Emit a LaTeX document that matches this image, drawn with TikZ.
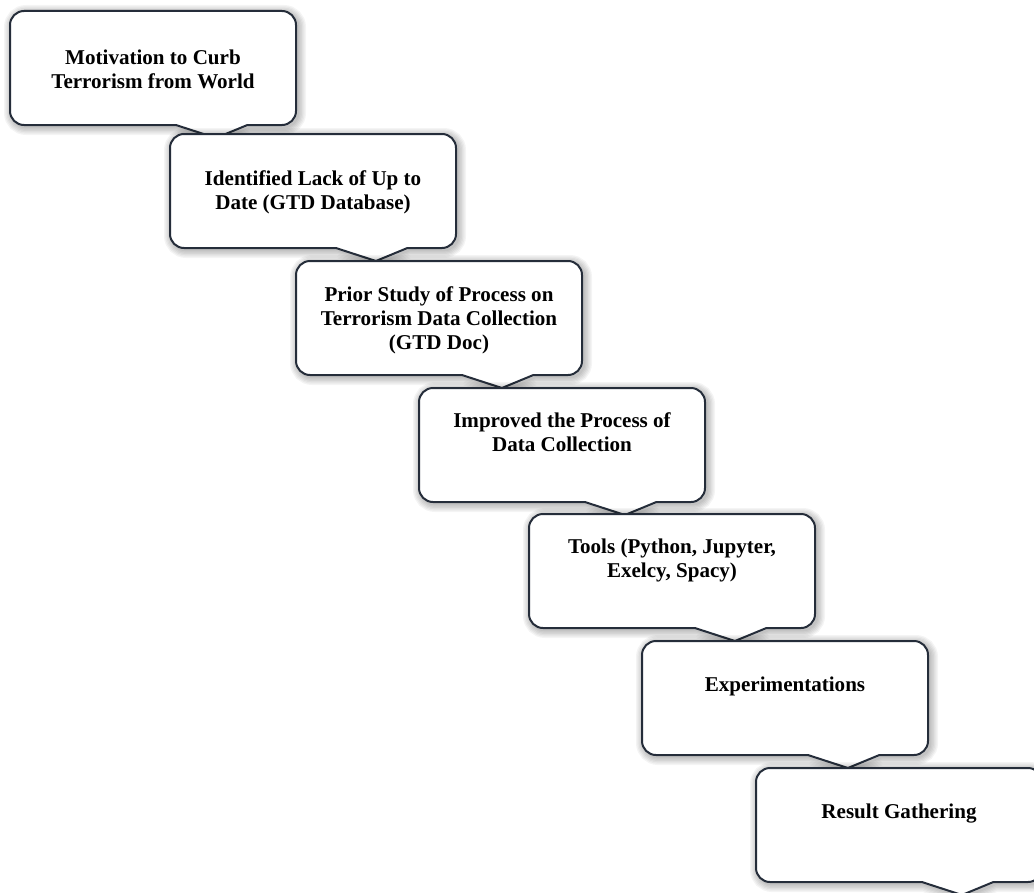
\documentclass[tikz,border=0pt]{standalone}
\usepackage{fontspec}
\setmainfont{Liberation Serif}
\usetikzlibrary{calc}
\definecolor{edge}{HTML}{252D3A}
\tikzset{
  x=0.75pt, y=0.75pt,
  % rounded rectangle with a short pointer under its bottom edge
  callout path/.style={insert path={
    ($(#1.south west)!0.58!(#1.south east)$)
    -- ($(#1.south west)+(14,0)$) arc[start angle=270,end angle=180,radius=10.5pt]
    -- ($(#1.north west)+(0,-14)$) arc[start angle=180,end angle=90,radius=10.5pt]
    -- ($(#1.north east)+(-14,0)$) arc[start angle=90,end angle=0,radius=10.5pt]
    -- ($(#1.south east)+(0,14)$) arc[start angle=0,end angle=-90,radius=10.5pt]
    -- ($(#1.south west)!0.83!(#1.south east)$)
    -- ($(#1.south west)!0.72!(#1.south east)+(0,-13)$) -- cycle}},
  boxarea/.style={minimum width=214.5pt, minimum height=85.5pt, inner sep=0pt, outer sep=0pt},
  labeltext/.style={font=\bfseries\fontsize{15.8pt}{18pt}\selectfont, align=center, inner sep=0pt, text=black},
  calloutbox/.style={draw=edge, line width=1.5pt, fill=white},
  halo/.style={draw=black, draw opacity=0.045, line width=#1, transform canvas={shift={(1.5pt,-1.5pt)}}}
}
\newcommand\castbox[1]{%
  \foreach \w in {2,4,...,12} {\path[halo=\w pt, callout path=#1];}
  \path[calloutbox, callout path=#1];}
\begin{document}
\begin{tikzpicture}
\useasboundingbox (0,0) rectangle (1034,-892);
\clip (0,0) rectangle (1034,-892);

\node[boxarea] (b1) at (153,-68) {};
\castbox{b1}
\node[labeltext] (t1) at (153,-69) {Motivation to Curb\\Terrorism from World};

\node[boxarea] (b2) at (313,-191) {};
\castbox{b2}
\node[labeltext] (t2) at (313,-192) {Identified Lack of Up to\\Date (GTD Database)};

\node[boxarea] (b3) at (439,-318) {};
\castbox{b3}
\node[labeltext] (t3) at (439,-320) {Prior Study of Process on\\Terrorism Data Collection\\(GTD Doc)};

\node[boxarea] (b4) at (562,-445) {};
\castbox{b4}
\node[labeltext] (t4) at (562,-432) {Improved the Process of\\Data Collection};

\node[boxarea] (b5) at (672,-571) {};
\castbox{b5}
\node[labeltext] (t5) at (672,-560) {Tools (Python, Jupyter,\\Exelcy, Spacy)};

\node[boxarea] (b6) at (785,-698) {};
\castbox{b6}
\node[labeltext] (t6) at (785,-686) {Experimentations};

\node[boxarea] (b7) at (899,-825) {};
\castbox{b7}
\node[labeltext] (t7) at (899,-814) {Result Gathering};
\end{tikzpicture}
\end{document}
